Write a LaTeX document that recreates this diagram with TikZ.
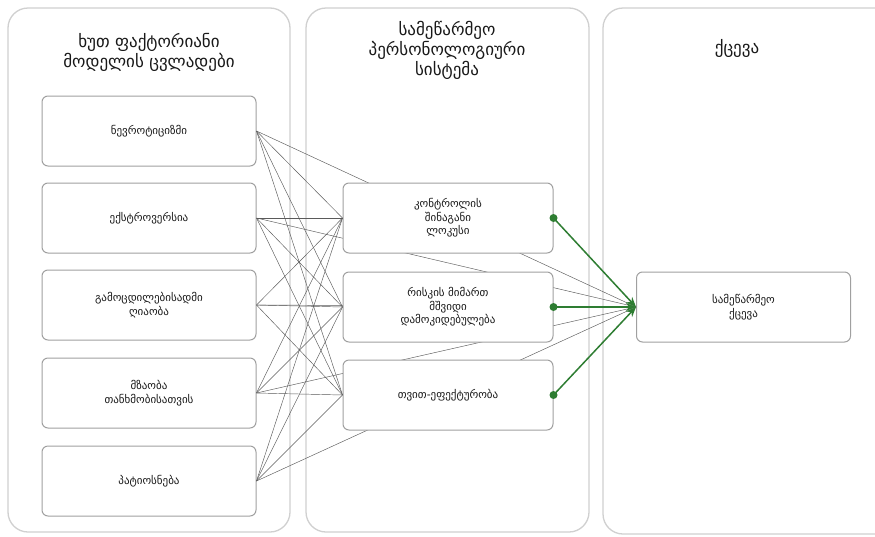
\documentclass[tikz,border=0pt]{standalone}
\usepackage{fontspec}
\setmainfont{DejaVu Sans}
\usetikzlibrary{arrows.meta}
\definecolor{panelline}{HTML}{D0D0D0}
\definecolor{boxline}{HTML}{A0A0A0}
\definecolor{linkgray}{HTML}{5A5A5A}
\definecolor{pathgreen}{HTML}{2E7D32}
\tikzset{
  panel/.style={draw=panelline, line width=1.3pt, fill=white, rounded corners=20pt},
  title/.style={align=center, font=\fontsize{17}{20}\selectfont, text=black!90},
  varbox/.style={draw=boxline, line width=1pt, fill=white, rounded corners=6pt,
    minimum width=214pt, minimum height=70pt, align=center,
    font=\fontsize{11}{13.5}\selectfont, text=black!90, inner sep=2pt},
  link/.style={draw=linkgray, line width=0.45pt},
  effect/.style={draw=pathgreen, line width=1.5pt, -{Stealth[length=10pt,width=8pt]}},
  dot/.style={circle, fill=pathgreen, inner sep=0pt, minimum size=8pt}
}
\begin{document}
\begin{tikzpicture}[x=1pt, y=-1pt]
\useasboundingbox (0,0) rectangle (875,536);
% column panels
\draw[panel] (8,8) rectangle (290,532);
\draw[panel] (306,8) rectangle (589,532);
\begin{scope}
\clip (0,0) rectangle (875,536);
\draw[panel] (603,8) rectangle (895,534);
\end{scope}
% column titles
\node[title] (t1) at (149,52) {ხუთ ფაქტორიანი\\მოდელის ცვლადები};
\node[title] (t2) at (447,50) {სამეწარმეო\\პერსონოლოგიური\\სისტემა};
\node[title] (t3) at (737,48) {ქცევა};
% five-factor variables
\node[varbox] (n1) at (149,131) {ნევროტიციზმი};
\node[varbox] (n2) at (149,218) {ექსტროვერსია};
\node[varbox] (n3) at (149,305) {გამოცდილებისადმი\\ღიაობა};
\node[varbox] (n4) at (149,393) {მზაობა\\თანხმობისათვის};
\node[varbox] (n5) at (149,481) {პატიოსნება};
% outcome
\node[varbox] (b) at (743.5,307) {სამეწარმეო\\ქცევა};
% direct links behind the middle column
\foreach \i in {1,...,5} \draw[link] (n\i.east) -- (b.west);
% entrepreneurial personality system
\node[varbox, minimum width=210pt] (m1) at (448,218) {კონტროლის\\შინაგანი\\ლოკუსი};
\node[varbox, minimum width=210pt] (m2) at (448,307) {რისკის მიმართ\\მშვიდი\\დამოკიდებულება};
\node[varbox, minimum width=210pt] (m3) at (448,395) {თვით-ეფექტურობა};
% links from every factor to every mediator
\foreach \i in {1,...,5}
  \foreach \j in {1,2,3}
    \draw[link] (n\i.east) -- (m\j.west);
% effects on behaviour
\foreach \j in {1,2,3} {
  \node[dot] (d\j) at (m\j.east) {};
  \draw[effect] (d\j.center) -- (b.west);
}
\end{tikzpicture}
\end{document}
